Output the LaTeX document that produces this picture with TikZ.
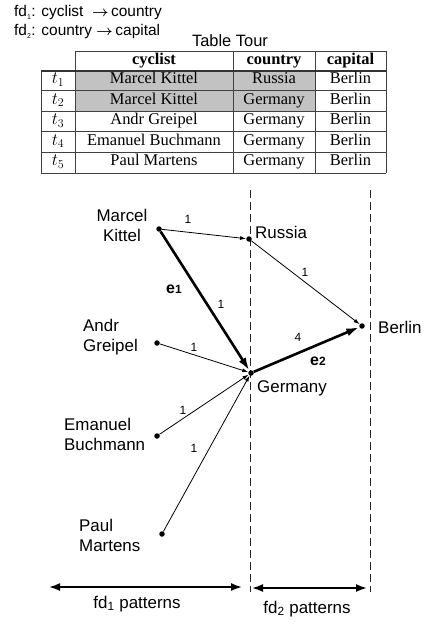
\documentclass[tikz,border=0pt]{standalone}
\usepackage{amsmath}
\usepackage{fontspec}
\setmainfont{Liberation Sans}
\newfontfamily\tabfont{Liberation Serif}
\usetikzlibrary{arrows.meta}

\begin{document}
\begin{tikzpicture}[x=1bp,y=-1bp,line join=round,>={Latex[length=6bp,width=4bp]},font=\fontsize{17}{20}\selectfont]
	\definecolor{cellgray}{rgb}{0.76, 0.76, 0.76}
	\useasboundingbox (0,0) rectangle (425,624);
	\tikzset{
		dot/.style={circle,fill=black,inner sep=0pt,minimum size=5.5bp},
		lbl/.style={inner sep=0pt},
		wt/.style={font=\fontsize{12}{14}\selectfont,inner sep=0pt},
		ename/.style={font=\fontsize{16}{18}\selectfont\bfseries,inner sep=0pt},
		cell/.style={font=\tabfont\fontsize{16.5}{19}\selectfont,inner sep=0pt,text height=10.5bp,text depth=3.5bp},
		hcell/.style={cell,font=\tabfont\bfseries\fontsize{16.5}{19}\selectfont},
		thin/.style={->,line width=0.8bp},
		heavy/.style={->,>={Latex[length=13bp,width=8bp]},line width=2.6bp},
		span/.style={{Latex[length=11bp,width=8bp]}-{Latex[length=11bp,width=8bp]},line width=1.8bp},
		sep/.style={dash pattern=on 8bp off 4bp,line width=1bp,black!85}
	}
	\def\colT{58} \def\colA{154} \def\colB{274} \def\colC{350.5}
	
	% the two fds
	\node[anchor=west,inner sep=0pt,font=\fontsize{15.5}{17}\selectfont] (fda) at (14,13)
		{fd\textsubscript{\scriptsize 1}: cyclist \ $\boldsymbol{\rightarrow}$\,country};
	\node[anchor=west,inner sep=0pt,font=\fontsize{15.5}{17}\selectfont] (fdb) at (14,32)
		{fd\textsubscript{\scriptsize 2}: country $\boldsymbol{\rightarrow}$\,capital};
	\node[inner sep=0pt,font=\fontsize{16.5}{19}\selectfont] (title) at (230,41) {Table Tour};
	
	% table
	\fill[cellgray] (75,71) rectangle (315,111);
	\draw[line width=0.8bp,black!75] (75,51)--(386,51)
		(41,90)--(386,90) (41,111)--(386,111) (41,131)--(386,131) (41,152)--(386,152)
		(41,173)--(386,173)
		(41,71)--(41,173) (75,51)--(75,173) (233,51)--(233,173) (315,51)--(315,173) (386,51)--(386,173);
	\draw[line width=1.8bp,black!80] (41,71)--(386,71);
	\node[hcell] (hA) at (\colA,61) {cyclist};
	\node[hcell] (hB) at (\colB,61) {country};
	\node[hcell] (hC) at (\colC,61) {capital};
	\foreach \i/\who/\land [evaluate=\i as \y using 60+20.4*\i] in
		{1/Marcel Kittel/Russia,2/Marcel Kittel/Germany,3/Andr Greipel/Germany,
		 4/Emanuel Buchmann/Germany,5/Paul Martens/Germany}{
		\node[cell] (t\i) at (\colT,\y) {$t_{\i}$};
		\node[cell] (a\i) at (\colA,\y) {\who};
		\node[cell] (b\i) at (\colB,\y) {\land};
		\node[cell] (c\i) at (\colC,\y) {Berlin};
	}
	
	% dashed separators
	\coordinate (s1t) at (250,190); \coordinate (s1b) at (250,592);
	\coordinate (s2t) at (370,190); \coordinate (s2b) at (370,592);
	\draw[sep] (s1t)--(s1b);
	\draw[sep] (s2t)--(s2b);
	
	% values
	\node[dot] (mk) at (159,229) {};
	\node[dot] (ag) at (157,343) {};
	\node[dot] (eb) at (157,436) {};
	\node[dot] (pm) at (162,534) {};
	\node[dot] (ru) at (249,239) {};
	\node[dot] (ge) at (251,373) {};
	\node[dot] (be) at (362,326) {};
	
	\node[lbl,align=center] (mkl) at (122,225) {Marcel\\Kittel};
	\node[lbl,align=left,anchor=west] (agl) at (83,337) {Andr\\Greipel};
	\node[lbl,align=left,anchor=west] (ebl) at (64,434) {Emanuel\\Buchmann};
	\node[lbl,align=left,anchor=west] (pml) at (79,535) {Paul\\Martens};
	\node[lbl,anchor=west] (rul) at (255,232) {Russia};
	\node[lbl,anchor=west] (gel) at (257,388) {Germany};
	\node[lbl,anchor=west] (bel) at (378,327) {Berlin};
	
	% edges
	\draw[thin] (mk)--(ru);
	\draw[thin] (ru)--(be);
	\draw[thin] (ag)--(ge);
	\draw[thin] (eb)--(ge);
	\draw[thin] (pm)--(ge);
	\draw[heavy] (mk)--(ge);
	\draw[heavy] (ge)--(be);
	
	\node[wt] (w1) at (188,219) {1};
	\node[wt] (w2) at (305,272) {1};
	\node[wt] (w3) at (221,304) {1};
	\node[wt] (w4) at (194,347) {1};
	\node[wt] (w5) at (183,410) {1};
	\node[wt] (w6) at (194,448) {1};
	\node[wt] (w7) at (298,337) {4};
	\node[ename] (e1) at (174,289) {e{\fontsize{12}{14}\selectfont 1}};
	\node[ename] (e2) at (318,361) {e{\fontsize{12}{14}\selectfont 2}};
	
	% pattern spans
	\coordinate (p1l) at (49,587); \coordinate (p1r) at (242,587);
	\coordinate (p2l) at (252,588); \coordinate (p2r) at (367,588);
	\draw[span] (p1l)--(p1r);
	\draw[span] (p2l)--(p2r);
	\node[lbl] (p1) at (137,604) {fd\textsubscript{1} patterns};
	\node[lbl] (p2) at (307,609) {fd\textsubscript{2} patterns};
\end{tikzpicture}
\end{document}
